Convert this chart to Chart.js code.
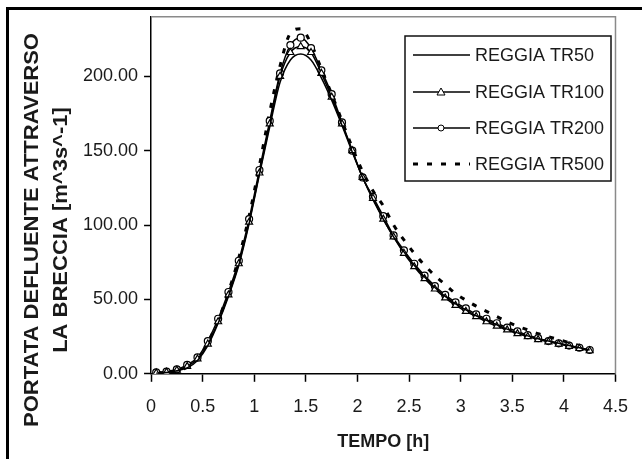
<!DOCTYPE html>
<html>
<head>
<meta charset="utf-8">
<script src="https://cdn.jsdelivr.net/npm/chart.js@4.4.0/dist/chart.umd.min.js"></script>
<style>
  html, body { margin: 0; padding: 0; background: #fff; }
  #wrap { width: 642px; height: 459px; }
</style>
</head>
<body>
<div id="wrap"><canvas id="flowChart" width="642" height="459"></canvas></div>
<script>
// time [h]
const times = [0.05, 0.15, 0.25, 0.35, 0.45, 0.55, 0.65, 0.75, 0.85, 0.95,
  1.05, 1.15, 1.25, 1.35, 1.45, 1.55, 1.65, 1.75, 1.85, 1.95,
  2.05, 2.15, 2.25, 2.35, 2.45, 2.55, 2.65, 2.75, 2.85, 2.95,
  3.05, 3.15, 3.25, 3.35, 3.45, 3.55, 3.65, 3.75, 3.85, 3.95,
  4.05, 4.15, 4.25];

// discharge [m^3 s^-1]
const tr50 = [0.3, 0.8, 2, 4, 9, 19, 34, 52, 73, 101, 134, 166, 196,
  211, 215, 211, 199, 184, 167, 149, 132, 117, 104,
  92, 82, 73, 65, 58, 52, 47, 43, 39, 36,
  33, 30, 27.5, 25.5, 23.5, 22, 20.5, 19, 17.5, 16];
const tr100 = [0.5, 1, 2.5, 5, 10, 20, 35, 53, 74, 102, 135, 168, 200,
  216, 220, 216, 202, 186, 168, 150, 132, 118, 104,
  92, 81, 72, 64, 57, 51, 46, 42, 38.5, 35,
  32, 29.5, 27, 25, 23, 21.5, 20, 18.5, 17, 15.5];
const tr200 = [1, 1.5, 3, 6, 11, 22, 37, 55, 76, 104, 137, 170, 202,
  221, 226, 219, 204, 188, 169, 150, 132, 119, 106,
  93, 83, 74, 66, 59, 53, 48, 44, 40, 37,
  34, 31, 28.5, 26, 24, 22, 20.5, 19, 17.5, 16];
const tr500 = [0.5, 1, 2, 4.5, 10, 21, 36, 55, 78, 106, 140, 176, 207,
  229, 232, 222, 205, 188, 170, 152, 136, 123, 113,
  100, 90, 81, 73, 66, 60, 54, 49.5, 45.5, 42,
  38.5, 35, 32, 29.5, 27, 25, 23, 21, 19, 17];

const seriesNames = ['REGGIA TR50', 'REGGIA TR100', 'REGGIA TR200', 'REGGIA TR500'];
const xTicks = [0, 0.5, 1, 1.5, 2, 2.5, 3, 3.5, 4, 4.5];
const yTicks = [0, 50, 100, 150, 200];
const yTitle = ['PORTATA DEFLUENTE ATTRAVERSO', 'LA BRECCIA [m^3s^-1]'];
const xTitle = 'TEMPO [h]';

const toPoints = vals => times.map((t, i) => ({ x: t, y: vals[i] }));

Chart.defaults.font.family = "'Liberation Sans', Arial, sans-serif";
Chart.defaults.color = '#1a1a1a';

// white page + the frame lines at top/left
const pageFrame = {
  id: 'pageFrame',
  beforeDraw(chart) {
    const ctx = chart.ctx;
    ctx.save();
    ctx.fillStyle = '#fff';
    ctx.fillRect(0, 0, chart.width, chart.height);
    ctx.strokeStyle = '#000';
    ctx.lineWidth = 3;
    ctx.beginPath();
    ctx.moveTo(6, 8.5);
    ctx.lineTo(chart.width, 8.5);
    ctx.moveTo(7.5, 7);
    ctx.lineTo(7.5, chart.height);
    ctx.stroke();
    ctx.restore();
  },
  afterDraw(chart) {
    const ctx = chart.ctx;
    const a = chart.chartArea;
    ctx.save();
    // top / right edge of plot area
    ctx.strokeStyle = '#8a8a8a';
    ctx.lineWidth = 1.5;
    ctx.beginPath();
    ctx.moveTo(a.left, a.top);
    ctx.lineTo(a.right, a.top);
    ctx.lineTo(a.right, a.bottom);
    ctx.stroke();

    // rotated y title, slightly stretched along the text like the source
    ctx.fillStyle = '#1a1a1a';
    ctx.font = "bold 20px 'Liberation Sans', Arial, sans-serif";
    ctx.textAlign = 'center';
    ctx.textBaseline = 'middle';
    const cols = [32, 61];
    yTitle.forEach((line, i) => {
      ctx.save();
      ctx.translate(cols[i], 230);
      ctx.rotate(-Math.PI / 2);
      ctx.scale(1.1, 1);
      ctx.fillText(line, 0, 0);
      ctx.restore();
    });
    ctx.restore();
  }
};

// boxed legend inside the plot
const boxLegend = {
  id: 'boxLegend',
  afterDraw(chart) {
    const ctx = chart.ctx;
    const bx = 405, by = 36, bw = 206, bh = 145;
    const rows = [55, 92, 128, 164];
    ctx.save();
    ctx.fillStyle = '#fff';
    ctx.fillRect(bx, by, bw, bh);
    ctx.strokeStyle = '#111';
    ctx.lineWidth = 1.5;
    ctx.strokeRect(bx, by, bw, bh);

    chart.data.datasets.forEach((ds, i) => {
      const y = rows[i];
      ctx.save();
      ctx.strokeStyle = '#000';
      ctx.lineWidth = ds.borderWidth;
      ctx.setLineDash(ds.borderDash || []);
      ctx.beginPath();
      ctx.moveTo(413, y);
      ctx.lineTo(470, y);
      ctx.stroke();
      ctx.setLineDash([]);
      ctx.lineWidth = 1;
      ctx.fillStyle = '#fff';
      if (ds.pointStyle === 'triangle') {
        ctx.beginPath();
        ctx.moveTo(441, y - 4);
        ctx.lineTo(445, y + 3);
        ctx.lineTo(437, y + 3);
        ctx.closePath();
        ctx.fill();
        ctx.stroke();
      } else if (ds.pointStyle === 'circle' && ds.pointRadius > 0) {
        ctx.beginPath();
        ctx.arc(441, y, 3, 0, Math.PI * 2);
        ctx.fill();
        ctx.stroke();
      }
      ctx.restore();
      ctx.fillStyle = '#1a1a1a';
      ctx.font = "18px 'Liberation Sans', Arial, sans-serif";
      ctx.textAlign = 'left';
      ctx.textBaseline = 'middle';
      ctx.fillText(ds.label, 475, y + 1);
    });
    ctx.restore();
  }
};

const ctxFlow = document.getElementById('flowChart').getContext('2d');
const flowChart = new Chart(ctxFlow, {
  type: 'line',
  data: {
    datasets: [{
      label: seriesNames[0],
      data: toPoints(tr50),
      borderColor: '#000',
      borderWidth: 1.5,
      pointRadius: 0,
      pointStyle: 'circle'
    }, {
      label: seriesNames[1],
      data: toPoints(tr100),
      borderColor: '#000',
      borderWidth: 1.5,
      pointStyle: 'triangle',
      pointRadius: 4,
      pointBackgroundColor: '#fff',
      pointBorderColor: '#000',
      pointBorderWidth: 1.2
    }, {
      label: seriesNames[2],
      data: toPoints(tr200),
      borderColor: '#000',
      borderWidth: 1.5,
      pointStyle: 'circle',
      pointRadius: 3.5,
      pointBackgroundColor: '#fff',
      pointBorderColor: '#000',
      pointBorderWidth: 1.2
    }, {
      label: seriesNames[3],
      data: toPoints(tr500),
      borderColor: '#000',
      borderWidth: 3,
      borderDash: [5, 9],
      pointRadius: 0,
      pointStyle: 'line'
    }]
  },
  options: {
    responsive: false,
    animation: false,
    cubicInterpolationMode: 'monotone',
    layout: { padding: { left: 77, right: -7, top: 15, bottom: 6 } },
    plugins: {
      legend: { display: false },
      tooltip: { enabled: false }
    },
    scales: {
      x: {
        type: 'linear',
        min: 0,
        max: 4.5,
        afterBuildTicks: axis => { axis.ticks = xTicks.map(v => ({ value: v })); },
        ticks: {
          font: { size: 18 },
          padding: 14,
          maxRotation: 0,
          callback: v => String(v)
        },
        grid: { drawOnChartArea: false, tickLength: 8, color: '#000', tickWidth: 1.5 },
        border: { color: '#000', width: 1.5 },
        title: {
          display: true,
          text: xTitle,
          font: { size: 18, weight: 'bold' },
          padding: { top: 0, bottom: 0 }
        }
      },
      y: {
        min: 0,
        max: 240,
        afterBuildTicks: axis => { axis.ticks = yTicks.map(v => ({ value: v })); },
        ticks: {
          font: { size: 18 },
          padding: 6,
          callback: v => Number(v).toFixed(2)
        },
        grid: { drawOnChartArea: false, tickLength: 7, color: '#000', tickWidth: 1.5 },
        border: { color: '#000', width: 1.5 }
      }
    }
  },
  plugins: [pageFrame, boxLegend]
});
</script>
</body>
</html>
